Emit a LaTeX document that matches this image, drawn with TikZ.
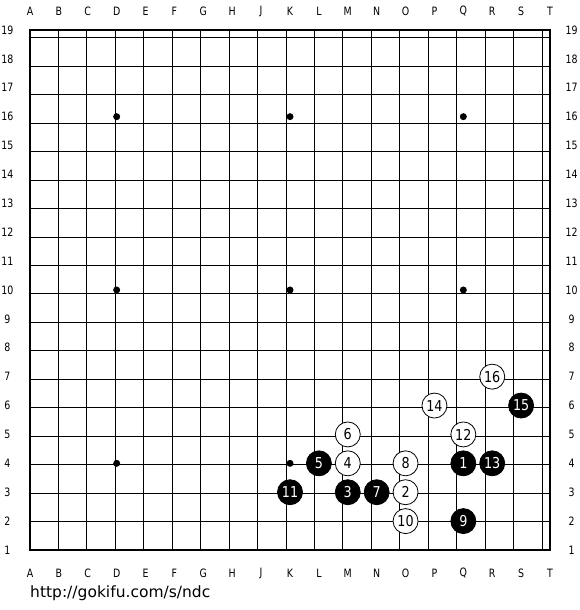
\documentclass[tikz,border=0pt]{standalone}
\usepackage{fontspec}
\setmainfont{DejaVu Sans}
\newfontfamily\stonefont[FakeStretch=0.85]{DejaVu Sans}
\newfontfamily\labfont[FakeStretch=0.82]{DejaVu Sans}
\begin{document}
\begin{tikzpicture}[x=28.8889pt,y=28.8889pt,
  lab/.style={font=\labfont\fontsize{11.5}{13}\selectfont, inner sep=0pt},
  stonebase/.style={circle, minimum size=25pt, inner sep=0pt, line width=0.8pt, draw=black,
    font=\stonefont\fontsize{15}{16}\selectfont},
  bstone/.style={stonebase, fill=black, text=white},
  wstone/.style={stonebase, fill=white, text=black},
  star/.style={circle, fill=black, minimum size=7pt, inner sep=0pt}]
\useasboundingbox (-30pt,-60pt) rectangle (550pt,550pt);
\fill[white] (-30pt,-60pt) rectangle (550pt,550pt);
% grid
\draw[line width=1pt] (0,0) grid (18,18);
\draw[line width=2pt] (0,0) rectangle (18,18);
% coordinates
\foreach \l [count=\i from 0] in {A,B,C,D,E,F,G,H,J,K,L,M,N,O,P,Q,R,S,T} {
  \node[lab] (top\i) at ([yshift=19pt]\i,18) {\l};
  \node[lab] (bot\i) at ([yshift=-23pt]\i,0) {\l};
}
\foreach \n in {1,...,19} {
  \node[lab] (left\n) at ([xshift=-22.5pt]0,{\n-1}) {\n};
  \node[lab] (right\n) at ([xshift=21.5pt]18,{\n-1}) {\n};
}
% star points
\foreach \x/\y [count=\k] in {3/3,9/3,15/3,3/9,9/9,15/9,3/15,9/15,15/15}
  \node[star] (star\k) at (\x,\y) {};
% stones
\node[bstone] (s1) at (15,3) {1};
\node[wstone] (s2) at (13,2) {2};
\node[bstone] (s3) at (11,2) {3};
\node[wstone] (s4) at (11,3) {4};
\node[bstone] (s5) at (10,3) {5};
\node[wstone] (s6) at (11,4) {6};
\node[bstone] (s7) at (12,2) {7};
\node[wstone] (s8) at (13,3) {8};
\node[bstone] (s9) at (15,1) {9};
\node[wstone] (s10) at (13,1) {10};
\node[bstone] (s11) at (9,2) {11};
\node[wstone] (s12) at (15,4) {12};
\node[bstone] (s13) at (16,3) {13};
\node[wstone] (s14) at (14,5) {14};
\node[bstone] (s15) at (17,5) {15};
\node[wstone] (s16) at (16,6) {16};
% url
\node[anchor=base west, inner sep=0pt, font=\fontsize{15.5}{18}\selectfont] (url) at (0pt,-47pt) {http://gokifu.com/s/ndc};
\end{tikzpicture}
\end{document}
